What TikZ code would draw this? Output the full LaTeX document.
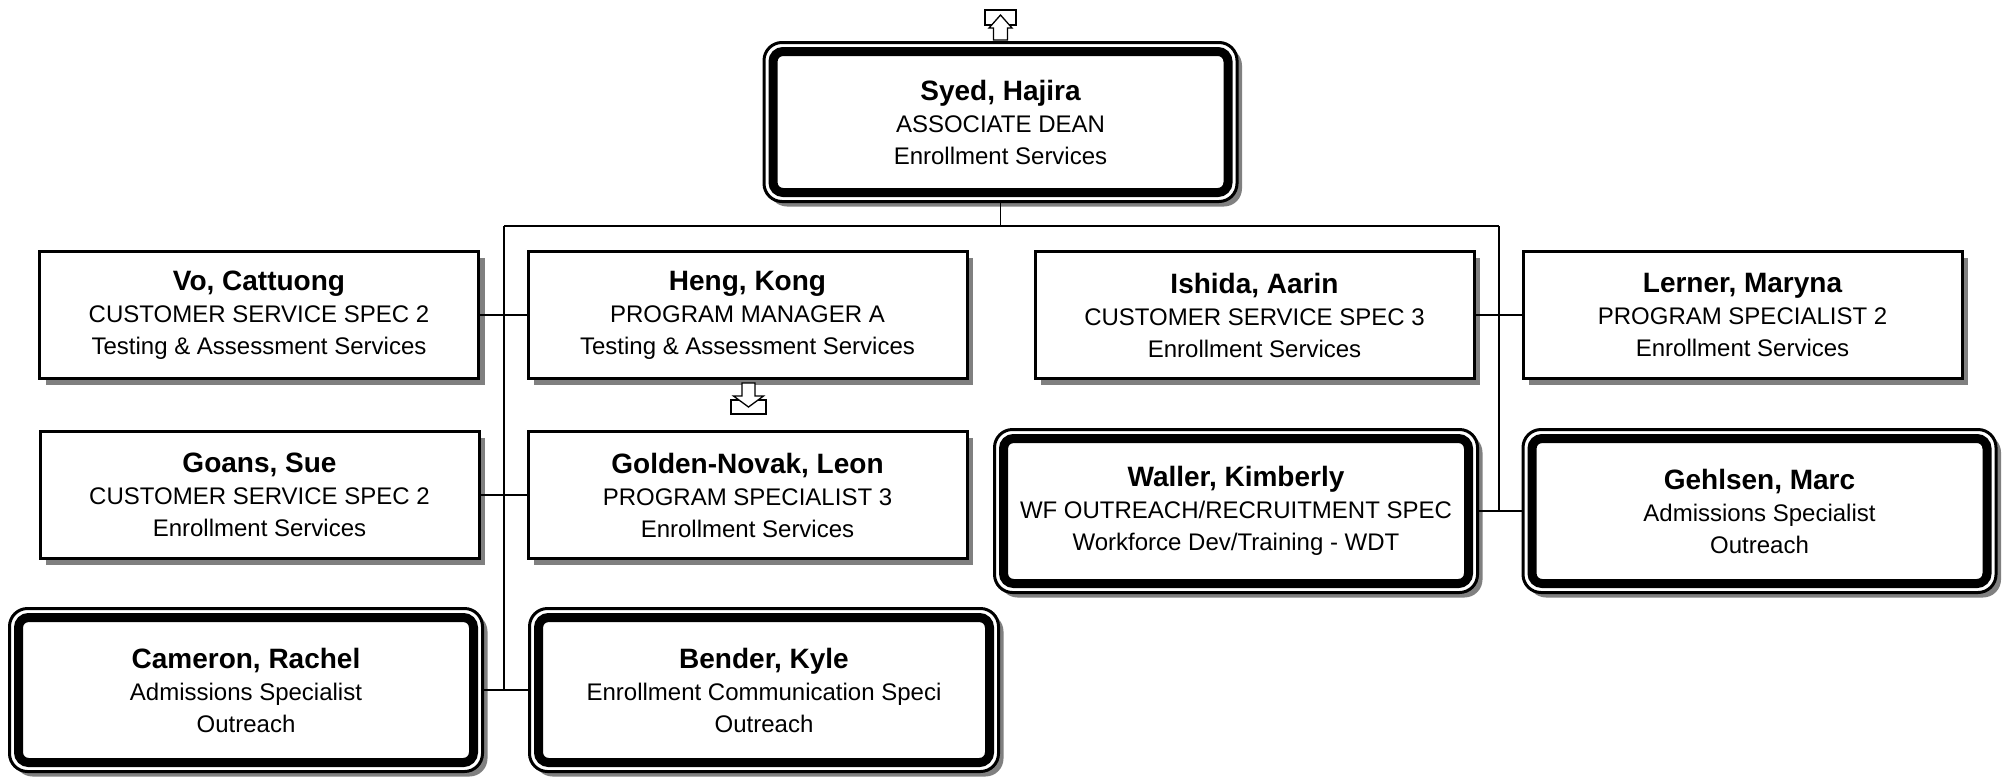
\documentclass[tikz,border=0pt]{standalone}
\usepackage{fontspec}
\setmainfont{Liberation Sans}
\usetikzlibrary{shadows}
\definecolor{shadowgray}{gray}{0.5}
\newcommand\boxname[1]{{\fontsize{14}{16}\selectfont\bfseries #1}}

\begin{document}
\begin{tikzpicture}[x=0.5pt,y=-0.5pt,
  card/.style={draw, line width=1.5pt, outer sep=0pt, inner sep=0pt, fill=white, align=center,
    font=\fontsize{12}{16}\selectfont},
  person/.style={card, minimum width=219.5pt, minimum height=63.5pt,
    drop shadow={shadow xshift=3pt, shadow yshift=-3pt, fill=shadowgray, opacity=1}},
  leader/.style={card, rounded corners=9pt, minimum width=236.5pt, minimum height=81.5pt,
    drop shadow={shadow xshift=2.5pt, shadow yshift=-2.5pt, fill=shadowgray, opacity=1}},
  frame/.style={line width=4.5pt, rounded corners=5pt},
  link/.style={line width=0.65pt},
  fold/.style={line width=0.65pt, fill=white}]
\useasboundingbox (0,0) rectangle (2011,777);

\node[leader, minimum height=79.5pt] (syed) at (1000.5,122)
  {\boxname{Syed, Hajira}\\ASSOCIATE DEAN\\Enrollment Services};

\node[person] (vo) at (259,315)
  {\boxname{Vo, Cattuong}\\CUSTOMER SERVICE SPEC 2\\Testing \& Assessment Services};
\node[person] (heng) at (747.5,315)
  {\boxname{Heng, Kong}\\PROGRAM MANAGER A\\Testing \& Assessment Services};
\node[person] (ishida) at (1254.5,315)
  {\boxname{Ishida, Aarin}\\CUSTOMER SERVICE SPEC 3\\Enrollment Services};
\node[person] (lerner) at (1742.5,315)
  {\boxname{Lerner, Maryna}\\PROGRAM SPECIALIST 2\\Enrollment Services};

\node[person] (goans) at (259.5,495)
  {\boxname{Goans, Sue}\\CUSTOMER SERVICE SPEC 2\\Enrollment Services};
\node[person] (golden) at (747.5,495)
  {\boxname{Golden-Novak, Leon}\\PROGRAM SPECIALIST 3\\Enrollment Services};
\node[leader, minimum width=241.5pt] (waller) at (1236,511)
  {\boxname{Waller, Kimberly}\\WF OUTREACH/RECRUITMENT SPEC\\Workforce Dev/Training - WDT};
\node[leader] (gehlsen) at (1759.5,511)
  {\boxname{Gehlsen, Marc}\\Admissions Specialist\\Outreach};

\node[leader] (cameron) at (246,690)
  {\boxname{Cameron, Rachel}\\Admissions Specialist\\Outreach};
\node[leader, minimum width=234.5pt] (bender) at (764,690)
  {\boxname{Bender, Kyle}\\Enrollment Communication Speci\\Outreach};

\foreach \n in {syed,waller,gehlsen,cameron,bender}
  \draw[frame] ([shift={(9,9)}]\n.north west) rectangle ([shift={(-9,-9)}]\n.south east);

\coordinate (busL) at (504,226);
\coordinate (busR) at (1499,226);
\draw[link] (syed.south) -- (syed.south |- busL);
\draw[link] (busL) -- (busR);
\draw[link] (busL) -- (busL |- cameron.east);
\draw[link] (busR) -- (busR |- waller.east);
\draw[link] (vo.east) -- (heng.west);
\draw[link] (goans.east) -- (golden.west);
\draw[link] (cameron.east) -- (bender.west);
\draw[link] (ishida.east) -- (lerner.west);
\draw[link] (waller.east) -- (gehlsen.west);

\begin{scope}[shift={(syed.north)}]
  \draw[fold] (-15.5,-32.5) rectangle (15.5,-17.5);
  \draw[fold] (-7,-2.5) -- (-7,-14.5) -- (-11.5,-14.5) -- (0,-27.5) -- (11.5,-14.5) -- (7,-14.5) -- (7,-2.5) -- cycle;
\end{scope}
\begin{scope}[shift={(heng.south)}]
  \draw[fold] (-16.5,21.5) rectangle (18.5,35.5);
  \draw[fold] (-5.5,4.5) -- (-5.5,17.5) -- (-14,17.5) -- (1,28.5) -- (16,17.5) -- (7.5,17.5) -- (7.5,4.5) -- cycle;
\end{scope}
\end{tikzpicture}
\end{document}
